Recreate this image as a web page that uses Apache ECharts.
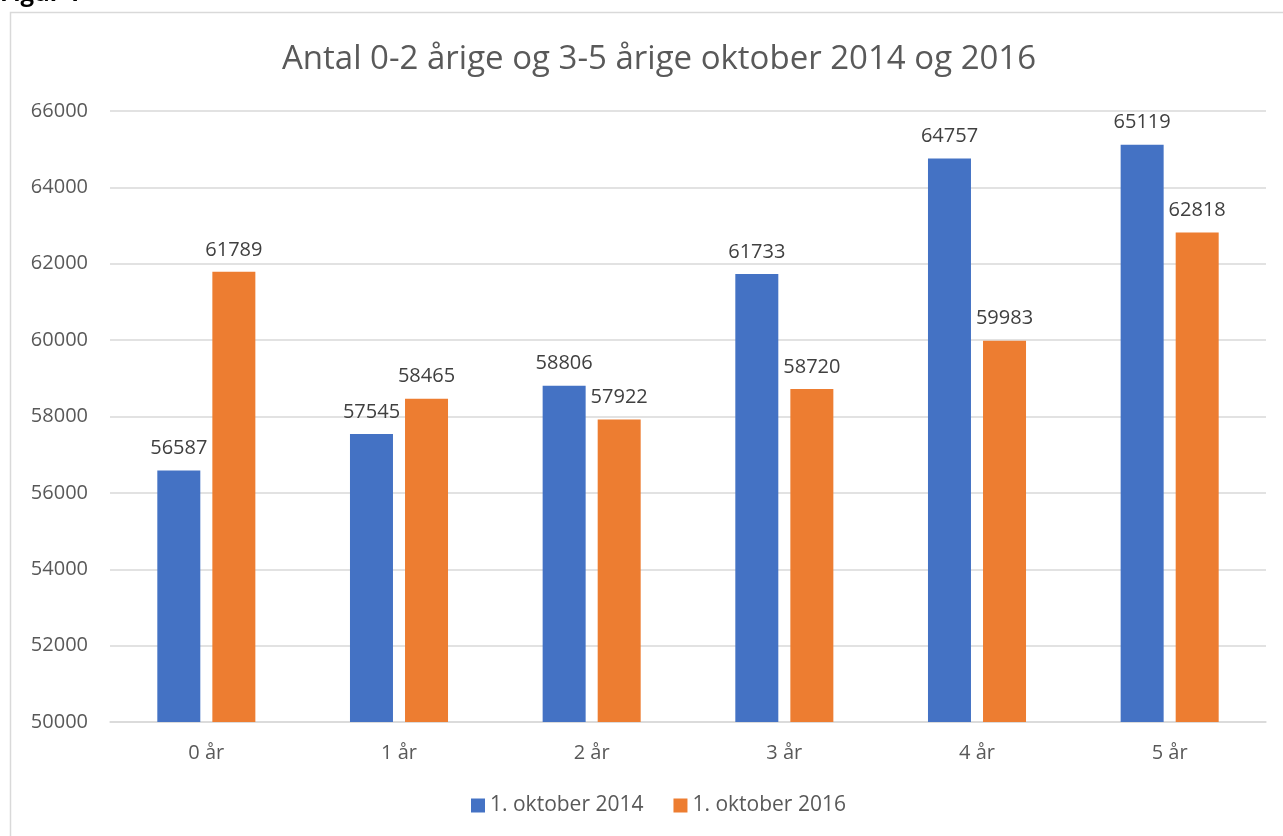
<!DOCTYPE html>
<html>
<head>
<meta charset="utf-8">
<script src="https://cdn.jsdelivr.net/npm/echarts@6/dist/echarts.min.js"></script>
<style>
  html, body { margin: 0; padding: 0; background: #fff; }
  #main { width: 1283px; height: 836px; }
</style>
</head>
<body>
<div id="main"></div>
<script>
// data
const categories = ['0 år', '1 år', '2 år', '3 år', '4 år', '5 år'];
const okt2014 = [56587, 57545, 58806, 61733, 64757, 65119];
const okt2016 = [61789, 58465, 57922, 58720, 59983, 62818];
const seriesNames = ['1. oktober 2014', '1. oktober 2016'];

const font = '"Open Sans", "Noto Sans", sans-serif';
const chart = echarts.init(document.getElementById('main'));

const labelStyle = {
  show: true,
  position: 'top',
  distance: 12,
  color: '#404040',
  fontSize: 20,
  fontFamily: font
};

chart.setOption({
  animation: false,
  textStyle: { fontFamily: font },
  graphic: [
    // outer chart frame (cut by the page edge on the right / bottom)
    {
      type: 'rect',
      shape: { x: 10.5, y: 12.5, width: 1290, height: 840 },
      style: { fill: 'none', stroke: '#d9d9d9', lineWidth: 1.5 },
      z: 0
    },
    // caption above the frame, mostly cropped away
    {
      type: 'text',
      left: 0,
      top: -18,
      style: { text: 'Figur 1', fontSize: 24, fontWeight: 'bold', fill: '#000', fontFamily: font }
    }
  ],
  title: {
    text: 'Antal 0-2 årige og 3-5 årige oktober 2014 og 2016',
    left: 277,
    top: 38,
    textStyle: { fontSize: 33, fontWeight: 'normal', color: '#595959', fontFamily: font }
  },
  legend: {
    bottom: 15,
    left: 466,
    itemWidth: 14,
    itemHeight: 14,
    itemGap: 30,
    icon: 'rect',
    textStyle: { fontSize: 21, color: '#595959', fontFamily: font },
    data: seriesNames
  },
  grid: { left: 110, right: 17, top: 111, bottom: 114, containLabel: false },
  xAxis: {
    type: 'category',
    data: categories,
    axisLine: { lineStyle: { color: '#d9d9d9', width: 1.5 } },
    axisTick: { show: false },
    axisLabel: { color: '#595959', fontSize: 20, margin: 21, fontFamily: font }
  },
  yAxis: {
    type: 'value',
    min: 50000,
    max: 66000,
    interval: 2000,
    axisLine: { show: false },
    axisTick: { show: false },
    splitLine: { lineStyle: { color: '#d9d9d9', width: 1.5 } },
    axisLabel: { color: '#595959', fontSize: 20, margin: 22, fontFamily: font, formatter: v => String(v) }
  },
  series: [
    {
      name: seriesNames[0],
      type: 'bar',
      data: okt2014,
      barWidth: 43,
      barGap: '28%',
      itemStyle: { color: '#4472c4' },
      label: labelStyle
    },
    {
      name: seriesNames[1],
      type: 'bar',
      data: okt2016,
      barWidth: 43,
      itemStyle: { color: '#ed7d31' },
      label: labelStyle
    }
  ]
});
</script>
</body>
</html>
